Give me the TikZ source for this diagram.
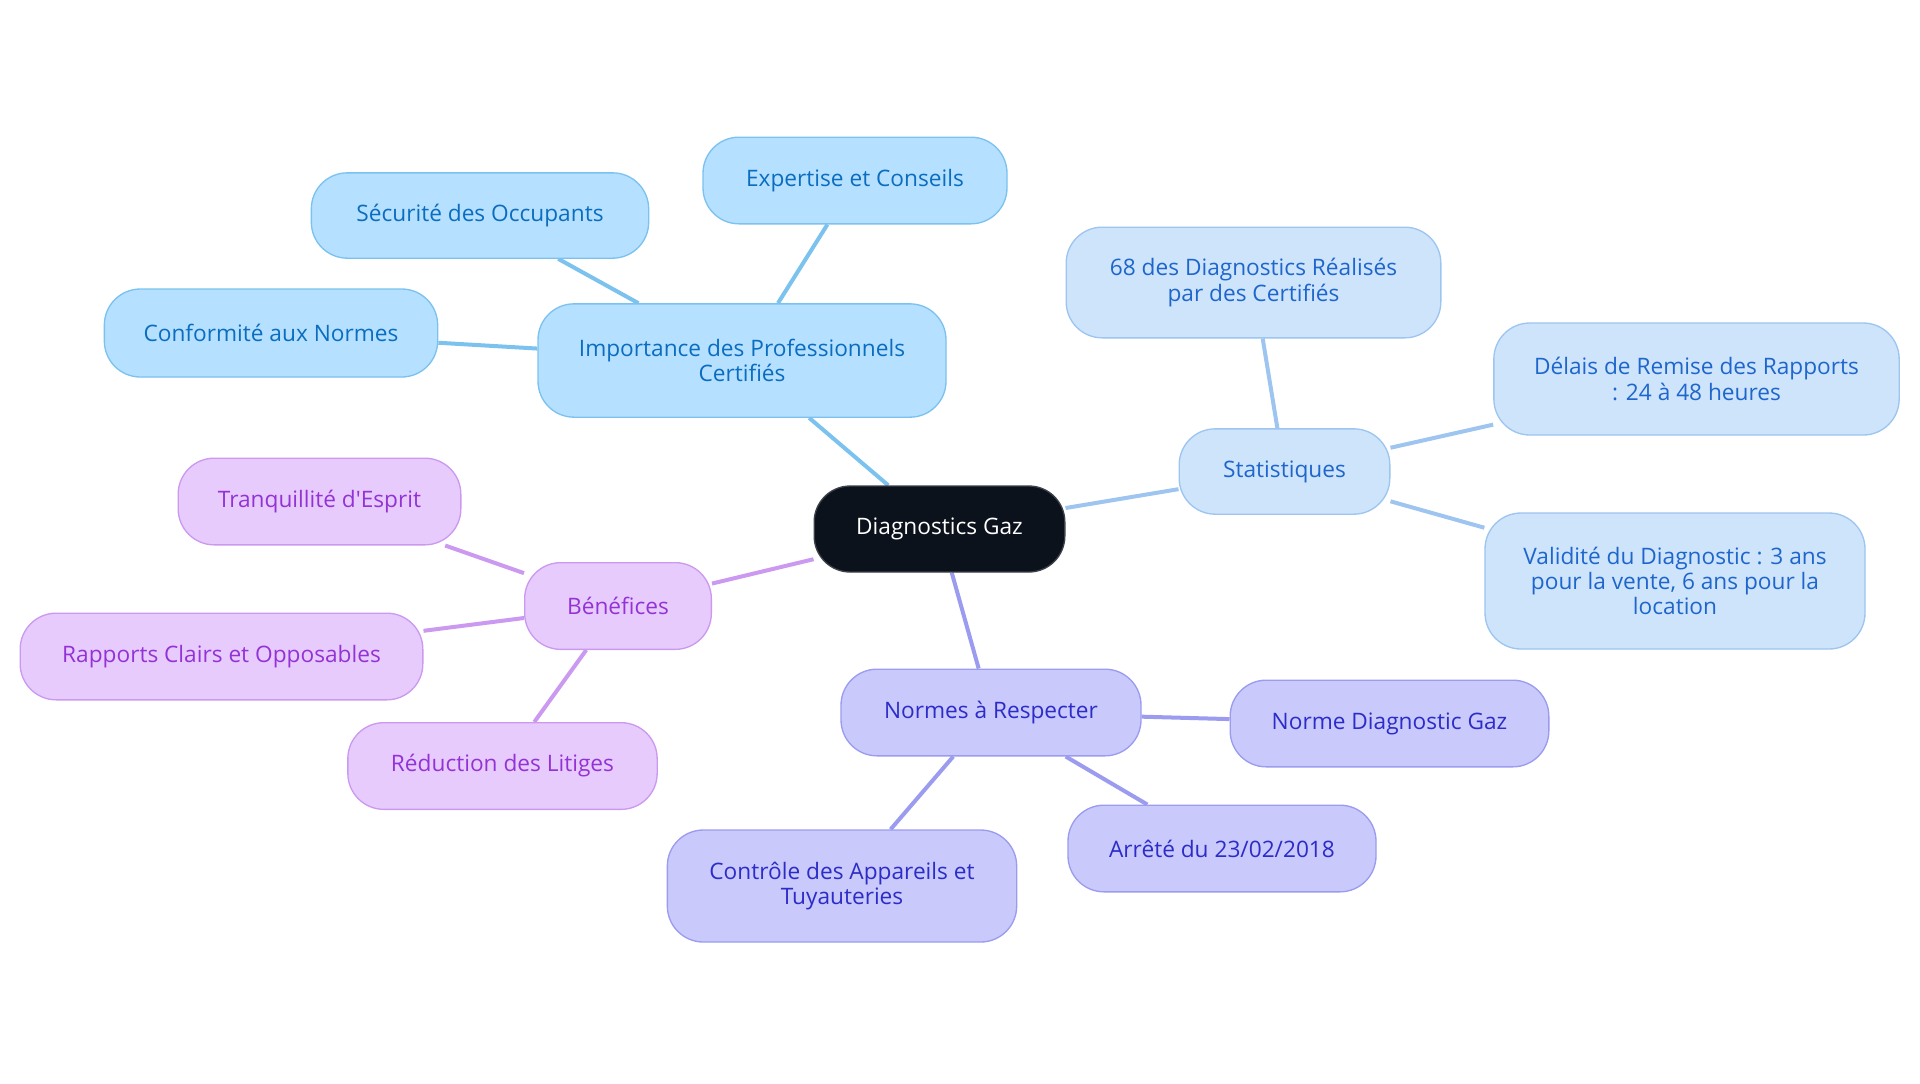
\documentclass[tikz,border=0pt]{standalone}
\usepackage{fontspec}
\setmainfont{Open Sans}
\usepackage{tikz}

\definecolor{impfill}{RGB}{181,224,255}
\definecolor{impdraw}{RGB}{124,194,238}
\definecolor{imptext}{RGB}{11,109,191}
\definecolor{statfill}{RGB}{205,228,251}
\definecolor{statdraw}{RGB}{157,197,240}
\definecolor{stattext}{RGB}{31,102,204}
\definecolor{normfill}{RGB}{201,201,251}
\definecolor{normdraw}{RGB}{155,155,240}
\definecolor{normtext}{RGB}{44,44,200}
\definecolor{beneffill}{RGB}{232,203,253}
\definecolor{benefdraw}{RGB}{204,153,240}
\definecolor{beneftext}{RGB}{147,51,214}
\definecolor{rootfill}{RGB}{12,18,27}

\pgfdeclarelayer{background}
\pgfsetlayers{background,main}

\tikzset{
  box/.style={rounded corners=27pt, line width=1pt, align=center, inner sep=0pt,
    font=\fontsize{17}{19}\selectfont},
  rootbox/.style={box, fill=rootfill, draw=rootfill!80!white, text=white},
  impbox/.style={box, fill=impfill, draw=impdraw, text=imptext},
  statbox/.style={box, fill=statfill, draw=statdraw, text=stattext},
  normbox/.style={box, fill=normfill, draw=normdraw, text=normtext},
  benefbox/.style={box, fill=beneffill, draw=benefdraw, text=beneftext},
  impline/.style={draw=impdraw, line width=3pt},
  statline/.style={draw=statdraw, line width=3pt},
  normline/.style={draw=normdraw, line width=3pt},
  benefline/.style={draw=benefdraw, line width=3pt}
}

\begin{document}
\begin{tikzpicture}[x=0.75pt,y=0.75pt,yscale=-1,xscale=1]
\useasboundingbox (0,0) rectangle (1920,1083);

%Root
\node[rootbox, minimum width=188pt, minimum height=64.5pt] (gaz) at (939.5,529) {Diagnostics Gaz};

%Importance group
\node[impbox, minimum width=306pt, minimum height=85pt] (imp) at (742,360.5) {Importance des Professionnels\\Certifiés};
\node[impbox, minimum width=228pt, minimum height=65pt] (expert) at (855,180.5) {Expertise et Conseils};
\node[impbox, minimum width=253pt, minimum height=64pt] (secu) at (480,215.5) {Sécurité des Occupants};
\node[impbox, minimum width=250pt, minimum height=66pt] (conf) at (271,333) {Conformité aux Normes};

%Statistiques group
\node[statbox, minimum width=158pt, minimum height=64pt] (stat) at (1284.5,471.5) {Statistiques};
\node[statbox, minimum width=281pt, minimum height=83pt] (pct) at (1253.5,282.5) {68 des Diagnostics Réalisés\\par des Certifiés};
\node[statbox, minimum width=304pt, minimum height=84pt] (delai) at (1696.5,379) {Délais de Remise des Rapports\\: 24 à 48 heures};
\node[statbox, minimum width=285pt, minimum height=102pt] (valid) at (1675,581) {Validité du Diagnostic : 3 ans\\pour la vente, 6 ans pour la\\location};

%Normes group
\node[normbox, minimum width=225pt, minimum height=65pt] (normes) at (991,712.5) {Normes à Respecter};
\node[normbox, minimum width=239pt, minimum height=65pt] (ndg) at (1389.5,723.5) {Norme Diagnostic Gaz};
\node[normbox, minimum width=231pt, minimum height=65pt] (arrete) at (1222,848.5) {Arrêté du 23/02/2018};
\node[normbox, minimum width=262pt, minimum height=84pt] (ctrl) at (842,886) {Contrôle des Appareils et\\Tuyauteries};

%Benefices group
\node[benefbox, minimum width=140pt, minimum height=65pt] (benef) at (618,606) {Bénéfices};
\node[benefbox, minimum width=212pt, minimum height=65pt] (tranq) at (319.5,501.5) {Tranquillité d\textquotesingle Esprit};
\node[benefbox, minimum width=302pt, minimum height=65pt] (rapp) at (221.5,656.5) {Rapports Clairs et Opposables};
\node[benefbox, minimum width=232pt, minimum height=65pt] (reduc) at (502.5,766) {Réduction des Litiges};

%Connectors
\begin{pgfonlayer}{background}
\path[impline] (gaz) -- (imp);
\path[impline] (imp) -- (expert);
\path[impline] (imp) -- (secu);
\path[impline] (imp) -- (conf);
\path[statline] (gaz) -- (stat);
\path[statline] (stat) -- (pct);
\path[statline] (stat) -- (delai);
\path[statline] (stat) -- (valid);
\path[normline] (gaz) -- (normes);
\path[normline] (normes) -- (ndg);
\path[normline] (normes) -- (arrete);
\path[normline] (normes) -- (ctrl);
\path[benefline] (gaz) -- (benef);
\path[benefline] (benef) -- (tranq);
\path[benefline] (benef) -- (rapp);
\path[benefline] (benef) -- (reduc);
\end{pgfonlayer}

\end{tikzpicture}
\end{document}
